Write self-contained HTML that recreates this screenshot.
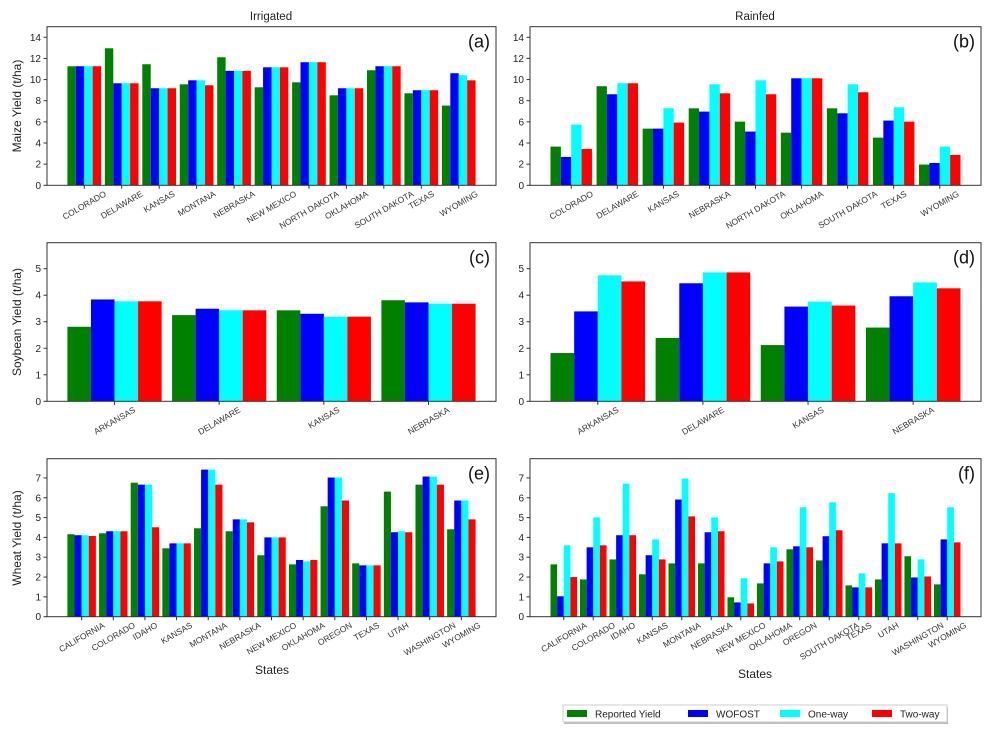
<!DOCTYPE html>
<html><head><meta charset="utf-8">
<style>
html,body{margin:0;padding:0;background:#fff;}
svg{display:block;font-family:"Liberation Sans","DejaVu Sans",sans-serif;}
</style></head>
<body>
<svg id="fig" width="991" height="736" viewBox="0 0 991 736" xmlns="http://www.w3.org/2000/svg">
<text x="271" y="20" font-size="11.5" text-anchor="middle" fill="#222">Irrigated</text>
<text x="755" y="20" font-size="11.5" text-anchor="middle" fill="#222">Rainfed</text>
<text transform="translate(21,106) rotate(-90)" font-size="12" text-anchor="middle" fill="#222">Maize Yield (t/ha)</text>
<text transform="translate(21,322) rotate(-90)" font-size="12" text-anchor="middle" fill="#222">Soybean Yield (t/ha)</text>
<text transform="translate(21,538) rotate(-90)" font-size="12" text-anchor="middle" fill="#222">Wheat Yield (t/ha)</text>
<text x="272" y="674" font-size="12" text-anchor="middle" fill="#222">States</text>
<text x="755" y="678" font-size="12" text-anchor="middle" fill="#222">States</text>
<g>
<rect x="564" y="707" width="384" height="17" fill="#bbb"/>
<rect x="563" y="705" width="384" height="17" fill="#fff" stroke="#ccc"/>
<rect x="567" y="710" width="20" height="7" fill="#008000"/>
<text x="595" y="717.5" font-size="10" fill="#222">Reported Yield</text>
<rect x="688" y="710" width="20" height="7" fill="#0000ff"/>
<text x="716" y="717.5" font-size="10" fill="#222">WOFOST</text>
<rect x="780" y="710" width="20" height="7" fill="#00ffff"/>
<text x="808" y="717.5" font-size="10" fill="#222">One-way</text>
<rect x="872" y="710" width="20" height="7" fill="#ff0000"/>
<text x="900" y="717.5" font-size="10" fill="#222">Two-way</text>
</g>
</svg>
<script>
// Panel (a) Maize irrigated
const aStates = ["COLORADO","DELAWARE","KANSAS","MONTANA","NEBRASKA","NEW MEXICO","NORTH DAKOTA","OKLAHOMA","SOUTH DAKOTA","TEXAS","WYOMING"];
const aReported = [11.26,12.96,11.45,9.55,12.11,9.27,9.74,8.51,10.88,8.70,7.54];
const aWofost = [11.26,9.65,9.18,9.93,10.82,11.16,11.64,9.18,11.26,8.99,10.60];
const aOneway = [11.26,9.65,9.18,9.93,10.82,11.16,11.64,9.18,11.26,8.99,10.41];
const aTwoway = [11.26,9.65,9.18,9.46,10.82,11.16,11.64,9.18,11.26,8.99,9.93];
const abTicks = [0,2,4,6,8,10,12,14];
// Panel (b) Maize rainfed
const bStates = ["COLORADO","DELAWARE","KANSAS","NEBRASKA","NORTH DAKOTA","OKLAHOMA","SOUTH DAKOTA","TEXAS","WYOMING"];
const bReported = [3.66,9.37,5.36,7.28,6.02,4.98,7.28,4.51,1.96];
const bWofost = [2.68,8.61,5.36,6.97,5.08,10.12,6.81,6.12,2.11];
const bOneway = [5.74,9.65,7.28,9.55,9.93,10.12,9.55,7.38,3.66];
const bTwoway = [3.44,9.65,5.93,8.70,8.61,10.12,8.80,6.02,2.87];
// Panel (c) Soybean irrigated
const cStates = ["ARKANSAS","DELAWARE","KANSAS","NEBRASKA"];
const cReported = [2.81,3.25,3.43,3.81];
const cWofost = [3.84,3.49,3.30,3.73];
const cOneway = [3.77,3.43,3.19,3.68];
const cTwoway = [3.77,3.43,3.19,3.68];
const cdTicks = [0,1,2,3,4,5];
// Panel (d) Soybean rainfed
const dStates = ["ARKANSAS","DELAWARE","KANSAS","NEBRASKA"];
const dReported = [1.82,2.39,2.12,2.78];
const dWofost = [3.39,4.45,3.57,3.96];
const dOneway = [4.75,4.86,3.76,4.48];
const dTwoway = [4.52,4.86,3.61,4.26];
// Panel (e) Wheat irrigated
const eStates = ["CALIFORNIA","COLORADO","IDAHO","KANSAS","MONTANA","NEBRASKA","NEW MEXICO","OKLAHOMA","OREGON","TEXAS","UTAH","WASHINGTON","WYOMING"];
const eReported = [4.16,4.21,6.76,3.45,4.46,4.31,3.10,2.64,5.57,2.69,6.31,6.66,4.41];
const eWofost = [4.11,4.31,6.66,3.70,7.42,4.91,4.00,2.86,7.02,2.59,4.26,7.07,5.86];
const eOneway = [4.11,4.31,6.66,3.70,7.42,4.91,4.00,2.79,7.02,2.59,4.31,7.07,5.86];
const eTwoway = [4.07,4.31,4.51,3.70,6.66,4.76,4.00,2.86,5.86,2.59,4.26,6.66,4.91];
const efTicks = [0,1,2,3,4,5,6,7];
// Panel (f) Wheat rainfed
const fStates = ["CALIFORNIA","COLORADO","IDAHO","KANSAS","MONTANA","NEBRASKA","NEW MEXICO","OKLAHOMA","OREGON","SOUTH DAKOTA","TEXAS","UTAH","WASHINGTON","WYOMING"];
const fReported = [2.64,1.88,2.89,2.14,2.69,2.69,0.98,1.68,3.40,2.84,1.58,1.88,3.05,1.63];
const fWofost = [1.03,3.50,4.11,3.10,5.91,4.26,0.72,2.69,3.55,4.06,1.48,3.70,1.98,3.90];
const fOneway = [3.60,5.01,6.71,3.90,6.97,5.01,1.94,3.50,5.52,5.77,2.19,6.23,2.89,5.52];
const fTwoway = [2.00,3.60,4.11,2.89,5.06,4.31,0.67,2.79,3.50,4.36,1.48,3.70,2.03,3.75];

const NS = "http://www.w3.org/2000/svg";
const fig = document.getElementById("fig");
const colors = ["#008000","#0000ff","#00ffff","#ff0000"];
const seriesNames = ["reported","wofost","oneway","twoway"];
function mk(tag, attrs, parent){
  const el = document.createElementNS(NS, tag);
  for (const k in attrs) el.setAttribute(k, attrs[k]);
  (parent||fig).appendChild(el);
  return el;
}
function panel(id, box, ymax, ticks, cats, series){
  const g = mk("g", {});
  
  
  const n = cats.length;
  const lo = -0.45 - 0.05*(n - 0.1), hi = (n-1) + 0.45 + 0.05*(n - 0.1);
  const xs = v => box.l + (v - lo)/(hi - lo)*(box.r - box.l);
  const ys = v => box.b - v/ymax*(box.b - box.t);
  const w = 0.225;
  series.forEach((vals, s) => {
    vals.forEach((v, i) => {
      const x0 = xs(i - 0.45 + s*w), x1 = xs(i - 0.45 + (s+1)*w);
      const r = mk("rect", {x:x0, y:ys(v), width:x1-x0, height:ys(0)-ys(v), fill:colors[s]}, g);
      
      
    });
  });
  const frame = mk("rect", {x:box.l, y:box.t, width:box.r-box.l, height:box.b-box.t, fill:"none", stroke:"#333", "stroke-width":1}, g);
  
  
  ticks.forEach(t => {
    const y = ys(t);
    mk("line", {x1:box.l-3.5, x2:box.l, y1:y, y2:y, stroke:"#333"}, g);
    const tx = mk("text", {x:box.l-6, y:y+3.5, "font-size":10, "text-anchor":"end", fill:"#222"}, g);
    tx.textContent = t;
    
    
  });
  cats.forEach((c, i) => {
    const x = xs(i);
    mk("line", {x1:x, x2:x, y1:box.b, y2:box.b+3.5, stroke:"#333"}, g);
    const tx = mk("text", {"font-size":8.5, "text-anchor":"middle", fill:"#333"}, g);
    tx.textContent = c;
    
    
    const len = tx.getComputedTextLength ? tx.getComputedTextLength() : c.length*5.5;
    const h = 8.5;
    const bh = len*0.5 + h*0.866;
    const cy = box.b + 4 + bh/2;
    tx.setAttribute("transform", "translate(" + x + "," + cy + ") rotate(-30) translate(0,3)");
  });
  const lbl = mk("text", {x:box.r-6, y:box.t+21, "font-size":18, "text-anchor":"end", fill:"#111"}, g);
  lbl.textContent = "(" + id + ")";
  
  
}
const L = {l:47, r:496}, R = {l:530, r:981};
const row1 = {t:26.7, b:185.3}, row2 = {t:242.7, b:401.3}, row3 = {t:458.7, b:616.7};
panel("a", {l:L.l, r:L.r, t:row1.t, b:row1.b}, 15, abTicks, aStates, [aReported,aWofost,aOneway,aTwoway]);
panel("b", {l:R.l, r:R.r, t:row1.t, b:row1.b}, 15, abTicks, bStates, [bReported,bWofost,bOneway,bTwoway]);
panel("c", {l:L.l, r:L.r, t:row2.t, b:row2.b}, 5.98, cdTicks, cStates, [cReported,cWofost,cOneway,cTwoway]);
panel("d", {l:R.l, r:R.r, t:row2.t, b:row2.b}, 5.98, cdTicks, dStates, [dReported,dWofost,dOneway,dTwoway]);
panel("e", {l:L.l, r:L.r, t:row3.t, b:row3.b}, 7.97, efTicks, eStates, [eReported,eWofost,eOneway,eTwoway]);
panel("f", {l:R.l, r:R.r, t:row3.t, b:row3.b}, 7.97, efTicks, fStates, [fReported,fWofost,fOneway,fTwoway]);
</script>
</body></html>
